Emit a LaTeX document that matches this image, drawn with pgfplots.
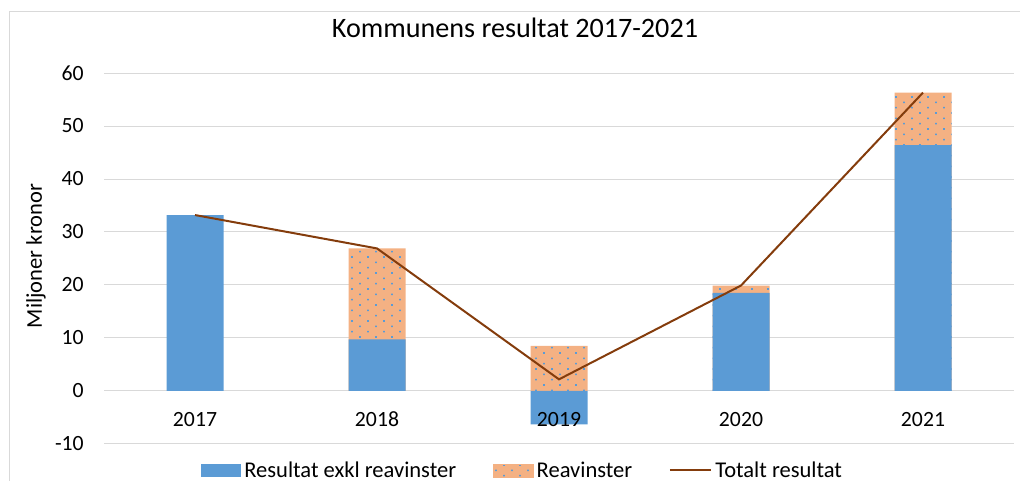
\documentclass[border=0pt]{standalone}
\usepackage{pgfplots}
\pgfplotsset{compat=1.18}
\usepackage{fontspec}
\setmainfont{Carlito}
\usetikzlibrary{patterns}
\definecolor{cblue}{HTML}{5B9BD5}
\definecolor{corange}{HTML}{F4B183}
\definecolor{cline}{HTML}{843C0C}
\definecolor{cgrid}{HTML}{D9D9D9}
\pgfdeclarepatternformonly{sparsedots}{\pgfqpoint{-1pt}{-1pt}}{\pgfqpoint{13pt}{9pt}}{\pgfqpoint{12pt}{8pt}}{%
  \pgfpathrectangle{\pgfqpoint{-0.6pt}{-0.6pt}}{\pgfqpoint{1.2pt}{1.2pt}}%
  \pgfpathrectangle{\pgfqpoint{5.4pt}{3.4pt}}{\pgfqpoint{1.2pt}{1.2pt}}%
  \pgfusepath{fill}%
}
\pgfplotsset{
  layers/labelsontop/.define layer set={
    axis background,axis grid,axis ticks,axis lines,main,axis tick labels,
    axis descriptions,axis foreground
  }{/pgfplots/layers/standard},
}
\begin{document}
\begin{tikzpicture}
\begin{axis}[
  set layers=labelsontop,
  at={(0pt,0pt)}, anchor=south west,
  scale only axis, width=682.5pt, height=278.25pt,
  xmin=-0.5, xmax=4.5, ymin=-10, ymax=60,
  xtick={0,1,2,3,4}, xticklabels={2017,2018,2019,2020,2021},
  ytick={-10,0,10,20,30,40,50,60},
  ymajorgrids, grid style={cgrid, line width=0.75pt},
  axis line style={draw=none}, major tick length=0pt,
  tick label style={font=\fontsize{16.3}{19}\selectfont, text=black},
  /pgf/number format/assume math mode=true,
  yticklabel style={inner sep=0pt, anchor=east, xshift=-15pt},
  xticklabel style={inner sep=0pt, anchor=base, yshift=12.75pt},
  legend columns=3,
  legend style={at={(0.1066,-0.0714)}, anchor=west, draw=none, fill=none,
    inner sep=0pt, outer sep=0pt, font=\fontsize{16.9}{19}\selectfont,
    nodes={inner sep=0pt},
    /tikz/every odd column/.append style={column sep=2.5pt},
    /tikz/every even column/.append style={column sep=27.5pt}},
  legend cell align=left,
]
% Reavinster (bar tops of the stacked positive part)
\addplot[ybar, bar width=42.75pt, bar shift=0pt, draw=none, fill=corange,
  postaction={pattern=sparsedots, pattern color=cblue}, forget plot]
  coordinates {(1,26.9) (2,8.5) (3,19.9) (4,56.3)};
% Resultat exkl reavinster
\addplot[ybar, bar width=42.75pt, bar shift=0pt, draw=none, fill=cblue,
  legend image code/.code={\fill[cblue] (0pt,-4.875pt) rectangle (30pt,4.875pt);}]
  coordinates {(0,33.2) (1,9.75) (2,-6.3) (3,18.5) (4,46.4)};
\addlegendentry{Resultat exkl reavinster}
\addlegendimage{legend image code/.code={\fill[corange, postaction={pattern=sparsedots, pattern color=cblue}] (0pt,-4.875pt) rectangle (30pt,4.875pt);}}
\addlegendentry{Reavinster}
% Totalt resultat
\addplot[cline, line width=1.5pt, mark=none, sharp plot,
  legend image code/.code={\draw[cline, line width=1.5pt] (0pt,0pt) -- (30.75pt,0pt);}]
  coordinates {(0,33.2) (1,26.9) (2,2.2) (3,19.9) (4,56.3)};
\addlegendentry{Totalt resultat}
\end{axis}
\draw[cgrid, line width=0.75pt] (-70.5pt,-30pt) -- (-70.5pt,324pt) -- (690pt,324pt);
\node[font=\fontsize{21.1}{24}\selectfont, anchor=base, inner sep=0pt] at (308.25pt,305pt) {Kommunens resultat 2017-2021};
\node[font=\fontsize{16.9}{19}\selectfont, rotate=90, anchor=base, inner sep=0pt] at (-46.5pt,141pt) {Miljoner kronor};
\pgfresetboundingbox
\useasboundingbox (-78pt,-27.75pt) rectangle (687pt,333pt);
\end{tikzpicture}
\end{document}
